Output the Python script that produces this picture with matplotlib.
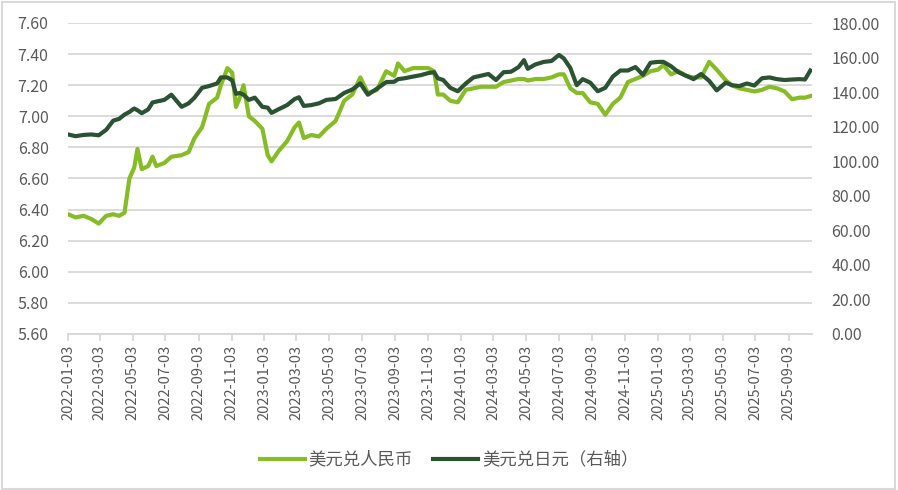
#!/usr/bin/env python3
"""
USD/CNY (left axis) and USD/JPY (right axis), 2022-01 to 2025-10.
"""

import matplotlib
matplotlib.use('Agg')
import matplotlib.pyplot as plt
import matplotlib.dates as mdates
from matplotlib.patches import Rectangle
from matplotlib.ticker import FormatStrFormatter, MultipleLocator
import pandas as pd

plt.rcParams['font.family'] = ['Noto Sans CJK SC', 'DejaVu Sans']

# values (roughly twice a month)
dates = [
    "2022-01-03", "2022-01-17", "2022-02-01", "2022-02-15", "2022-03-01", "2022-03-15",
    "2022-03-28", "2022-04-08", "2022-04-18", "2022-04-27", "2022-05-06", "2022-05-12",
    "2022-05-20", "2022-06-01", "2022-06-09", "2022-06-16", "2022-07-01", "2022-07-14",
    "2022-08-02", "2022-08-15", "2022-08-26", "2022-09-09", "2022-09-22", "2022-10-07",
    "2022-10-14", "2022-10-26", "2022-11-04", "2022-11-11", "2022-11-18", "2022-11-25",
    "2022-12-05", "2022-12-16", "2022-12-30", "2023-01-09", "2023-01-16", "2023-01-30",
    "2023-02-14", "2023-02-28", "2023-03-08", "2023-03-17", "2023-03-31", "2023-04-14",
    "2023-04-28", "2023-05-15", "2023-05-31", "2023-06-15", "2023-06-30", "2023-07-14",
    "2023-07-31", "2023-08-17", "2023-09-01", "2023-09-08", "2023-09-20", "2023-10-06",
    "2023-10-20", "2023-11-03", "2023-11-14", "2023-11-21", "2023-12-01", "2023-12-14",
    "2023-12-28", "2024-01-12", "2024-01-26", "2024-02-09", "2024-02-23", "2024-03-08",
    "2024-03-22", "2024-04-05", "2024-04-19", "2024-04-29", "2024-05-06", "2024-05-20",
    "2024-06-05", "2024-06-19", "2024-07-03", "2024-07-12", "2024-07-24", "2024-08-05",
    "2024-08-16", "2024-08-30", "2024-09-13", "2024-09-27", "2024-10-11", "2024-10-25",
    "2024-11-08", "2024-11-22", "2024-12-06", "2024-12-20", "2025-01-03", "2025-01-13",
    "2025-01-27", "2025-02-10", "2025-02-24", "2025-03-10", "2025-03-24", "2025-04-08",
    "2025-04-22", "2025-05-09", "2025-05-20", "2025-06-03", "2025-06-17", "2025-07-01",
    "2025-07-15", "2025-07-29", "2025-08-12", "2025-08-26", "2025-09-09", "2025-09-23",
    "2025-10-03", "2025-10-13",
]

usd_cny = [
    6.37, 6.35, 6.36, 6.34, 6.31, 6.36,
    6.37, 6.36, 6.38, 6.60, 6.67, 6.79,
    6.66, 6.68, 6.74, 6.68, 6.70, 6.74,
    6.75, 6.77, 6.86, 6.93, 7.08, 7.12,
    7.20, 7.31, 7.28, 7.06, 7.12, 7.20,
    7.00, 6.97, 6.92, 6.75, 6.71, 6.78,
    6.84, 6.93, 6.96, 6.86, 6.88, 6.87,
    6.92, 6.97, 7.10, 7.14, 7.25, 7.15,
    7.17, 7.29, 7.26, 7.34, 7.29, 7.31,
    7.31, 7.31, 7.29, 7.14, 7.14, 7.10,
    7.09, 7.17, 7.18, 7.19, 7.19, 7.19,
    7.22, 7.23, 7.24, 7.24, 7.23, 7.24,
    7.24, 7.25, 7.27, 7.27, 7.18, 7.15,
    7.15, 7.09, 7.08, 7.01, 7.08, 7.12,
    7.22, 7.24, 7.26, 7.29, 7.30, 7.33,
    7.27, 7.29, 7.26, 7.25, 7.25, 7.35,
    7.30, 7.23, 7.20, 7.18, 7.17, 7.16,
    7.17, 7.19, 7.18, 7.16, 7.11, 7.12,
    7.12, 7.13,
]

usd_jpy = [
    115.5, 114.5, 115.2, 115.5, 115.0, 118.2,
    123.5, 124.5, 127.0, 128.5, 130.5, 129.5,
    127.8, 130.0, 134.0, 134.5, 135.5, 138.5,
    131.5, 133.5, 136.8, 142.5, 143.5, 145.0,
    148.5, 148.5, 146.8, 139.0, 139.5, 138.5,
    135.5, 136.8, 131.5, 131.0, 128.0, 130.2,
    132.5, 136.0, 137.0, 132.0, 132.5, 133.5,
    135.5, 136.0, 139.5, 141.5, 145.0, 138.5,
    142.0, 145.8, 146.0, 147.5, 148.0, 149.0,
    149.8, 151.0, 151.5, 148.0, 147.0, 142.5,
    140.5, 145.0, 148.5, 149.5, 150.5, 147.0,
    151.5, 151.8, 154.5, 158.5, 153.5, 156.0,
    157.5, 158.0, 161.5, 159.5, 154.0, 144.0,
    147.5, 145.5, 140.5, 142.5, 149.0, 152.5,
    152.5, 154.5, 150.0, 157.0, 157.5, 157.5,
    155.0, 151.5, 149.5, 147.5, 150.5, 146.5,
    141.0, 145.5, 144.0, 143.5, 145.0, 143.8,
    148.0, 148.5, 147.5, 147.0, 147.3, 147.5,
    147.3, 152.5,
]

labels = ['美元兑人民币', '美元兑日元（右轴）']
light_green = '#86BC25'
dark_green = '#2A5233'
grid_gray = '#D9D9D9'
text_gray = '#595959'

x = pd.to_datetime(dates)

fig = plt.figure(figsize=(8.98, 4.90), dpi=100)
ax = fig.add_axes([68 / 898, 1 - 334 / 490, (812 - 68) / 898, (334 - 23) / 490])
ax2 = ax.twinx()

l1, = ax.plot(x, usd_cny, color=light_green, lw=3.0, solid_joinstyle='round')
l2, = ax2.plot(x, usd_jpy, color=dark_green, lw=3.0, solid_joinstyle='round')

# left axis
ax.set_ylim(5.6, 7.6)
ax.yaxis.set_major_locator(MultipleLocator(0.2))
ax.yaxis.set_major_formatter(FormatStrFormatter('%.2f'))
ax.grid(axis='y', color=grid_gray, lw=1.3)
ax.set_axisbelow(True)

# right axis
ax2.set_ylim(0, 180)
ax2.yaxis.set_major_locator(MultipleLocator(20))
ax2.yaxis.set_major_formatter(FormatStrFormatter('%.2f'))

# x axis: every two months on the 3rd
ticks = pd.date_range('2022-01-01', '2025-09-01', freq='2MS') + pd.Timedelta(days=2)
ax.set_xticks(ticks)
ax.xaxis.set_major_formatter(mdates.DateFormatter('%Y-%m-%d'))
ax.set_xlim(pd.Timestamp('2022-01-03'), pd.Timestamp('2025-10-16'))
ax.tick_params(axis='x', rotation=90, labelsize=10.5, colors=text_gray,
               direction='out', length=5, width=1.3, color=grid_gray, pad=3)
ax.tick_params(axis='y', labelsize=11.5, colors=text_gray, length=0, pad=14)
ax2.tick_params(axis='y', labelsize=11.5, colors=text_gray, length=0, pad=14)

for a in (ax, ax2):
    for side in ('top', 'left', 'right'):
        a.spines[side].set_visible(False)
    a.spines['bottom'].set_color(grid_gray)
    a.spines['bottom'].set_linewidth(1.3)

fig.legend([l1, l2], labels, loc='center', bbox_to_anchor=(0.5, 0.062),
           ncol=2, frameon=False, fontsize=12.5, handlelength=2.6,
           columnspacing=1.2, handletextpad=0.2, labelcolor=text_gray)

# chart-area border
fig.add_artist(Rectangle((0.002, 0.003), 0.995, 0.993, transform=fig.transFigure,
                         fill=False, edgecolor=grid_gray, lw=1.5))

plt.savefig('out.png', dpi=100, facecolor='white')
plt.close()
